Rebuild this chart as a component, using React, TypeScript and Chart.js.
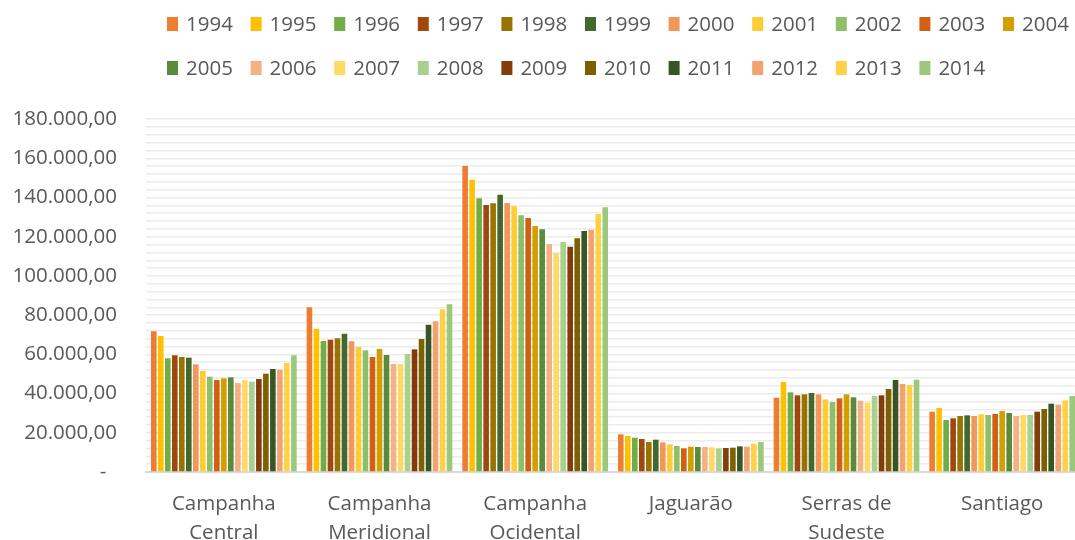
import React, { useEffect, useRef } from "react";
import { Chart, registerables } from "chart.js";

Chart.register(...registerables);

const categories: (string | string[])[] = [
  ["Campanha", "Central"],
  ["Campanha", "Meridional"],
  ["Campanha", "Ocidental"],
  "Jaguarão",
  ["Serras de", "Sudeste"],
  "Santiago",
];

const years = [
  "1994", "1995", "1996", "1997", "1998", "1999", "2000", "2001", "2002", "2003", "2004",
  "2005", "2006", "2007", "2008", "2009", "2010", "2011", "2012", "2013", "2014",
];

// values per region, one per year 1994..2014
const campanhaCentral = [
  71750, 69350, 57970, 59500, 58640, 58300, 54900, 51500, 48600, 46900, 47760,
  48270, 45380, 46900, 46050, 47420, 50130, 52520, 52170, 55580, 59500,
];
const campanhaMeridional = [
  83980, 73080, 66800, 67470, 68160, 70540, 66630, 63740, 62040, 58640, 62720,
  59660, 55070, 55070, 60170, 62550, 67820, 75120, 76830, 82950, 85500,
];
const campanhaOcidental = [
  156030, 149050, 139550, 136150, 137000, 141400, 137170, 135470, 130880, 129520, 125440,
  123740, 116100, 111670, 117280, 114900, 119150, 122890, 123570, 131560, 134960,
];
const jaguarao = [
  19220, 18360, 17500, 16830, 15300, 16490, 15130, 14110, 13260, 12070, 12920,
  12750, 12750, 12580, 12070, 12240, 12410, 13090, 12920, 14450, 15300,
];
const serrasDeSudeste = [
  37900, 45890, 40620, 39100, 39610, 40280, 39610, 37050, 35690, 37560, 39610,
  38070, 36370, 35350, 38750, 39100, 42320, 46910, 44870, 44360, 47070,
];
const santiago = [
  30760, 32630, 26520, 27370, 28550, 28900, 28550, 29410, 29060, 29580, 31100,
  30090, 28550, 29060, 29060, 30760, 32120, 34840, 34330, 36560, 38750,
];

const regions = [campanhaCentral, campanhaMeridional, campanhaOcidental, jaguarao, serrasDeSudeste, santiago];

const yearColors = [
  "#ED7D31", "#FFC000", "#70AD47", "#9E480E", "#997300", "#43682B", "#F1975A",
  "#FFCD33", "#8CC168", "#D26012", "#D29E00", "#5A8A3A", "#F4B183", "#FFD966",
  "#A9D18E", "#843C0C", "#7F6000", "#375623", "#F2A36F", "#FFD147", "#9BC87A",
];

const FONT = '"Open Sans", "Liberation Sans", sans-serif';
const TEXT = "#595959";

function fmt(v: number): string {
  if (v === 0) return "-  ";
  const s = Math.round(v).toString().replace(/\B(?=(\d{3})+(?!\d))/g, ".");
  return s + ",00";
}

const legendPlugin = {
  id: "excelLegend",
  afterDraw(chart: any) {
    const ctx = chart.ctx as CanvasRenderingContext2D;
    ctx.save();
    ctx.font = `20.5px ${FONT}`;
    ctx.textBaseline = "middle";
    ctx.textAlign = "left";
    const perRow = 11;
    chart.data.datasets.forEach((ds: any, i: number) => {
      const row = Math.floor(i / perRow);
      const col = i % perRow;
      const x = 167 + col * 83.6;
      const y = 24 + row * 44;
      ctx.fillStyle = ds.backgroundColor;
      ctx.fillRect(x, y - 7, 11, 14);
      ctx.fillStyle = TEXT;
      ctx.fillText(ds.label, x + 19, y + 1);
    });
    ctx.restore();
  },
};

export default function App() {
  const ref = useRef<HTMLCanvasElement | null>(null);
  useEffect(() => {
    if (!ref.current) return;
    const datasets = years.map((y, i) => ({
      label: y,
      data: regions.map((r) => r[i]),
      backgroundColor: yearColors[i],
      borderWidth: 0,
      barPercentage: 0.8,
      categoryPercentage: 0.945,
    }));
    const chart = new Chart(ref.current, {
      type: "bar",
      data: { labels: categories as any, datasets },
      options: {
        animation: false,
        responsive: false,
        devicePixelRatio: 1,
        layout: { padding: { top: 119, right: 5, left: 0, bottom: 0 } },
        plugins: {
          legend: { display: false },
          tooltip: { enabled: false },
          title: { display: false },
        },
        scales: {
          x: {
            grid: { display: false, drawTicks: false },
            border: { display: true, color: "#d9d9d9", width: 2 },
            ticks: {
              color: TEXT,
              font: { family: FONT, size: 20.5, lineHeight: 1.4 },
              padding: 18,
              maxRotation: 0,
              autoSkip: false,
            },
            afterFit(scale: any) {
              scale.height = 548 - 472;
            },
          },
          y: {
            min: 0,
            max: 180000,
            border: { display: false },
            grid: { color: "#ececec", lineWidth: 1.4, drawTicks: false },
            ticks: {
              stepSize: 4000,
              maxTicksLimit: 100,
              autoSkip: false,
              color: TEXT,
              padding: 29,
              font: { family: FONT, size: 20.5 },
              callback: (v: any) => (Number(v) % 20000 === 0 ? fmt(Number(v)) : ""),
            },
            afterFit(scale: any) {
              scale.width = 146;
            },
          },
        },
      },
      plugins: [legendPlugin],
    });
    return () => chart.destroy();
  }, []);
  return (
    <div style={{ position: "fixed", left: 0, top: 0, width: 1075, height: 540, overflow: "hidden", background: "#fff" }}>
      <canvas ref={ref} width={1085} height={548} style={{ display: "block" }} />
    </div>
  );
}
